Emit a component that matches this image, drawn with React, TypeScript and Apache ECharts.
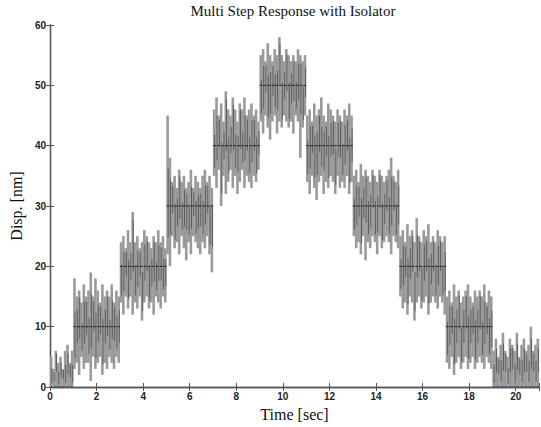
import React, { useEffect, useRef } from "react";
import * as echarts from "echarts";

const title = "Multi Step Response with Isolator";
const xName = "Time [sec]";
const yName = "Disp. [nm]";

const segStart = [0, 1, 3, 5, 7, 9, 11, 13, 15, 17, 19];
const segEnd = [1, 3, 5, 7, 9, 11, 13, 15, 17, 19, 21];
const levels = [0, 10, 20, 30, 40, 50, 40, 30, 20, 10, 0];

// read envelope of the noisy trace (top / bottom of each vertical stroke)
const highs = [
  [5, 3, 6, 4, 5, 3, 6, 7, 4, 6],
  [18, 15, 16, 14, 17, 15, 16, 19, 15, 18, 16, 14, 17, 15, 16, 15, 17, 14, 16, 15],
  [24, 25, 23, 26, 24, 29, 24, 25, 23, 24, 26, 25, 24, 23, 25, 24, 26, 24, 25, 23],
  [45, 38, 34, 35, 33, 36, 34, 35, 33, 34, 36, 33, 35, 34, 33, 35, 36, 34, 35, 33],
  [46, 48, 45, 47, 44, 49, 46, 45, 48, 46, 44, 47, 46, 48, 45, 46, 47, 45, 46, 44],
  [55, 56, 54, 57, 55, 54, 56, 55, 58, 55, 54, 56, 55, 54, 55, 54, 56, 55, 54, 55],
  [45, 46, 44, 47, 45, 46, 48, 45, 44, 47, 46, 45, 44, 46, 45, 44, 46, 45, 47, 45],
  [35, 36, 34, 37, 35, 36, 35, 34, 36, 35, 34, 36, 35, 34, 35, 36, 38, 35, 34, 36],
  [25, 26, 24, 27, 25, 26, 24, 28, 25, 24, 26, 25, 27, 24, 25, 24, 26, 25, 24, 25],
  [15, 16, 14, 17, 15, 16, 14, 15, 16, 17, 15, 14, 16, 15, 16, 15, 17, 14, 16, 15],
  [6, 8, 5, 7, 9, 6, 5, 8, 7, 6, 9, 5, 7, 8, 6, 7, 10, 6, 7, 8],
];
const lows = [
  [0, 0, 0, 0, 0, 0, 0, 0, 0, 0],
  [3, 4, 2, 5, 3, 4, 4, 1, 5, 3, 4, 5, 2, 4, 3, 5, 4, 3, 5, 4],
  [14, 12, 15, 13, 15, 12, 14, 13, 15, 11, 14, 15, 13, 14, 12, 15, 14, 13, 15, 14],
  [22, 20, 25, 23, 24, 22, 25, 23, 21, 24, 22, 25, 24, 23, 22, 24, 23, 25, 22, 19],
  [35, 33, 36, 30, 35, 32, 34, 36, 33, 35, 32, 34, 36, 33, 35, 34, 33, 35, 34, 36],
  [44, 42, 45, 43, 41, 44, 45, 42, 44, 43, 45, 44, 43, 44, 42, 45, 44, 38, 43, 45],
  [34, 32, 35, 33, 31, 34, 35, 32, 34, 33, 35, 34, 32, 35, 33, 34, 33, 35, 32, 34],
  [25, 23, 24, 22, 25, 21, 24, 23, 25, 24, 22, 25, 23, 24, 25, 24, 22, 25, 24, 23],
  [15, 13, 14, 12, 15, 14, 11, 14, 15, 13, 14, 15, 12, 14, 15, 14, 13, 15, 14, 12],
  [4, 3, 5, 2, 4, 5, 3, 4, 5, 3, 4, 5, 3, 4, 5, 4, 3, 5, 4, 3],
  [0, 0, 0, 0, 0, 0, 0, 0, 0, 0, 0, 0, 0, 0, 0, 0, 0, 0, 0, 0],
];

const xTicks = [0, 2, 4, 6, 8, 10, 12, 14, 16, 18, 20];
const yTicks = [0, 10, 20, 30, 40, 50, 60];

export default function App() {
  const ref = useRef<HTMLDivElement>(null);
  useEffect(() => {
    if (!ref.current) return;
    const chart = echarts.init(ref.current, null, { renderer: "svg" });

    const strokes: number[][] = [];
    segStart.forEach((s, i) => {
      const n = highs[i].length;
      const w = (segEnd[i] - s) / n;
      for (let k = 0; k < n; k++) {
        strokes.push([s + (k + 0.5) * w, lows[i][k], highs[i][k], k]);
      }
    });
    const steps = segStart.map((s, i) => [s, segEnd[i], levels[i]]);

    const axisLine = { show: true, lineStyle: { color: "#555", width: 1.3 } };
    const tickLabel = {
      color: "#222",
      fontFamily: "Liberation Sans",
      fontWeight: "bold" as const,
      fontSize: 10,
    };
    const tick = { show: true, inside: true, length: 4, lineStyle: { color: "#555" } };

    chart.setOption({
      animation: false,
      backgroundColor: "#fff",
      grid: { left: 47, right: 2, top: 25, bottom: 38 },
      graphic: [
        {
          type: "text",
          x: 293,
          y: 11,
          style: {
            text: title,
            textAlign: "center",
            textVerticalAlign: "middle",
            fill: "#111",
            font: "15px 'Liberation Serif'",
          },
        },
      ],
      xAxis: [
        {
          type: "value",
          min: 0,
          max: 21,
          interval: 2,
          name: xName,
          nameLocation: "middle",
          nameGap: 19,
          nameTextStyle: { fontFamily: "Liberation Serif", fontSize: 16, color: "#111" },
          axisLine,
          axisTick: tick,
          axisLabel: { ...tickLabel, margin: 4, customValues: xTicks },
          splitLine: { show: false },
        },
        {
          type: "value",
          position: "top",
          min: 0,
          max: 21,
          interval: 2,
          axisLine,
          axisTick: tick,
          axisLabel: { show: false },
          splitLine: { show: false },
        },
      ],
      yAxis: [
        {
          type: "value",
          min: 0,
          max: 60,
          interval: 10,
          name: yName,
          nameLocation: "middle",
          nameGap: 25,
          nameRotate: 90,
          nameTextStyle: { fontFamily: "Liberation Serif", fontSize: 16, color: "#111" },
          axisLine,
          axisTick: tick,
          axisLabel: { ...tickLabel, margin: 4, customValues: yTicks },
          splitLine: { show: false },
        },
        {
          type: "value",
          position: "right",
          min: 0,
          max: 60,
          interval: 10,
          axisLine,
          axisTick: tick,
          axisLabel: { show: false },
          splitLine: { show: false },
        },
      ],
      series: [
        {
          type: "custom",
          data: strokes,
          clip: true,
          renderItem: (_p: any, api: any) => {
            const x = api.value(0);
            const a = api.coord([x, api.value(1)]);
            const b = api.coord([x, api.value(2)]);
            return {
              type: "line",
              shape: { x1: a[0], y1: a[1], x2: b[0], y2: b[1] },
              style: { stroke: "#9a9a9a", lineWidth: 2.6 },
            };
          },
        },
        {
          type: "custom",
          data: strokes,
          clip: true,
          renderItem: (_p: any, api: any) => {
            const x = api.value(0);
            const lo = api.value(1);
            const hi = api.value(2);
            const k = api.value(3);
            const span = hi - lo;
            const f = k % 3 === 0 ? 0.12 : k % 3 === 1 ? 0.3 : 0.42;
            const a = api.coord([x, lo + span * f]);
            const b = api.coord([x, hi - span * (0.5 - f)]);
            return {
              type: "line",
              shape: { x1: a[0] + 0.6, y1: a[1], x2: b[0] + 0.6, y2: b[1] },
              style: { stroke: "#444", lineWidth: 1, opacity: 0.7 },
            };
          },
        },
        {
          type: "custom",
          data: steps,
          clip: true,
          renderItem: (_p: any, api: any) => {
            const a = api.coord([api.value(0), api.value(2)]);
            const b = api.coord([api.value(1), api.value(2)]);
            return {
              type: "line",
              shape: { x1: a[0], y1: a[1], x2: b[0], y2: b[1] },
              style: { stroke: "#222", lineWidth: 1, lineDash: [3, 1] },
            };
          },
        },
      ],
    });
    return () => chart.dispose();
  }, []);
  return (
    <div
      ref={ref}
      style={{ position: "fixed", left: 0, top: 0, width: 541, height: 427 }}
    />
  );
}
